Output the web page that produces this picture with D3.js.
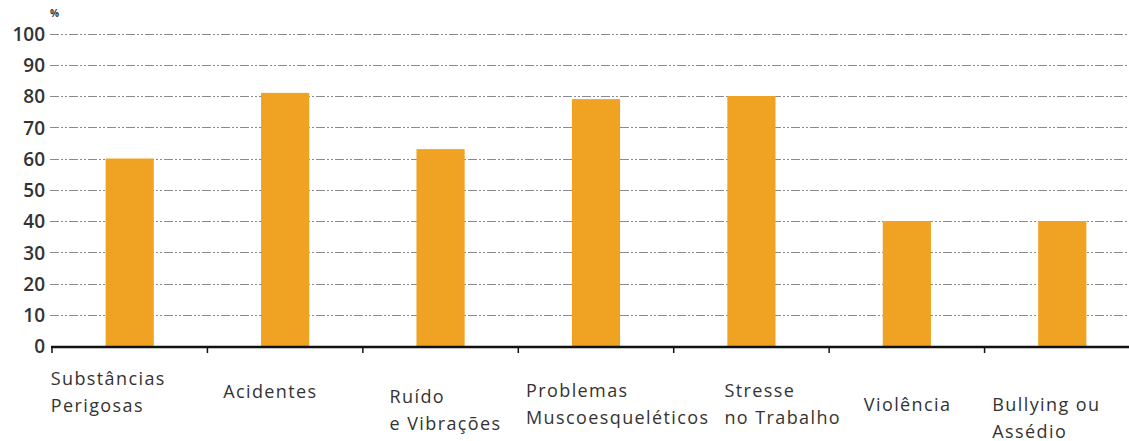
<!DOCTYPE html>
<html>
<head>
<meta charset="utf-8">
<script src="https://cdn.jsdelivr.net/npm/d3@7"></script>
<style>
  html, body { margin: 0; padding: 0; background: #fff; }
  svg { display: block; }
</style>
</head>
<body>
<svg id="chart" width="1129" height="441"></svg>
<script>
// Categories (label lines) and the share of respondents, in %
const labelLines = [
  ["Substâncias", "Perigosas"],
  ["Acidentes"],
  ["Ruído", "e Vibrações"],
  ["Problemas", "Muscoesqueléticos"],
  ["Stresse", "no Trabalho"],
  ["Violência"],
  ["Bullying ou", "Assédio"]
];
const categories = labelLines.map(l => l.join(" "));
const values = [60, 81, 63, 79, 80, 40, 40];
const yTicks = [0, 10, 20, 30, 40, 50, 60, 70, 80, 90, 100];

// Label placement relative to each band centre: [dx of text start, baseline of first line]
const labelNudge = [
  [-79, 385], [-62, 398], [-51, 403], [-70, 397], [-27, 397], [-43, 411], [-70, 411]
];
const lineGap = 26.5;

const svg = d3.select("#chart");
const left = 52, right = 1140, y0 = 346, yTop = 33.5;

const x = d3.scaleBand()
  .domain(categories)
  .range([left, right])
  .paddingInner(0.69)
  .paddingOuter(0.345);

const y = d3.scaleLinear().domain([0, 100]).range([y0, yTop]);

// Dashed gridlines
svg.append("g")
  .selectAll("line")
  .data(yTicks.filter(d => d > 0))
  .join("line")
  .attr("x1", 50)
  .attr("x2", 1129)
  .attr("y1", d => Math.round(y(d)) + 0.5)
  .attr("y2", d => Math.round(y(d)) + 0.5)
  .attr("stroke", "#8a8a8a")
  .attr("stroke-width", 1)
  .attr("stroke-dasharray", "9,2,2,2,2,2");

// Y tick labels
const yAxis = d3.axisLeft(y).tickValues(yTicks).tickSize(0).tickPadding(0);
const gy = svg.append("g").attr("transform", "translate(45,0)").call(yAxis);
gy.select(".domain").remove();
gy.selectAll("text")
  .attr("font-family", "'Open Sans', sans-serif")
  .attr("font-size", 19)
  .attr("font-weight", 600)
  .attr("fill", "#333")
  .attr("dy", "0.36em");

svg.append("text")
  .attr("x", 50)
  .attr("y", 17)
  .attr("font-family", "'Open Sans', sans-serif")
  .attr("font-size", 10)
  .attr("font-weight", 700)
  .attr("fill", "#333")
  .text("%");

// Bars
svg.append("g")
  .selectAll("rect")
  .data(values)
  .join("rect")
  .attr("x", (d, i) => x(categories[i]))
  .attr("width", x.bandwidth())
  .attr("y", d => y(d))
  .attr("height", d => y(0) - y(d))
  .attr("fill", "#F0A323");

// Category axis: baseline and tick marks at band boundaries
const half = (x.step() - x.bandwidth()) / 2;
const bounds = categories.map(c => x(c) - half).concat([right]);
svg.append("line")
  .attr("x1", left - 1)
  .attr("x2", 1129)
  .attr("y1", y0 + 1)
  .attr("y2", y0 + 1)
  .attr("stroke", "#111")
  .attr("stroke-width", 2.5);
svg.append("g")
  .selectAll("line")
  .data(bounds)
  .join("line")
  .attr("x1", d => d)
  .attr("x2", d => d)
  .attr("y1", y0)
  .attr("y2", y0 + 7)
  .attr("stroke", "#111")
  .attr("stroke-width", 1.5);

// Category labels
const lab = svg.append("g")
  .attr("font-family", "'Open Sans', sans-serif")
  .attr("font-size", 18)
  .attr("letter-spacing", "1.4px")
  .attr("fill", "#333");
labelLines.forEach((lines, i) => {
  const cx = x(categories[i]) + x.bandwidth() / 2;
  const t = lab.append("text")
    .attr("x", cx + labelNudge[i][0])
    .attr("y", labelNudge[i][1]);
  lines.forEach((ln, j) => {
    t.append("tspan")
      .attr("x", cx + labelNudge[i][0])
      .attr("y", labelNudge[i][1] + j * lineGap)
      .text(ln);
  });
});
</script>
</body>
</html>
